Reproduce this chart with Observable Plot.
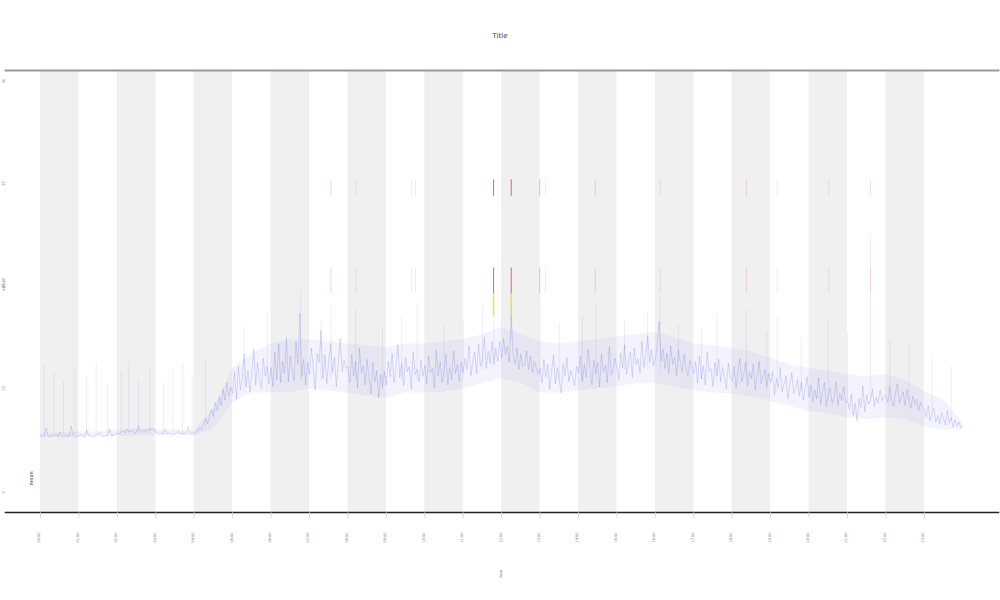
<!DOCTYPE html>
<html>
<head>
<meta charset="utf-8">
<script src="https://cdn.jsdelivr.net/npm/d3@7"></script>
<script src="https://cdn.jsdelivr.net/npm/@observablehq/plot@0.6"></script>
<style>
  html, body { margin: 0; padding: 0; background: #fff; }
  #title { height: 60px; width: 1000px; display: flex; align-items: flex-end; justify-content: center; font: 7px "DejaVu Sans", sans-serif; color: #444; }
  #title span { margin-bottom: 20px; }
</style>
</head>
<body>
<div id="title"><span>Title</span></div>
<div id="chart"></div>
<script>
// ---- data ----
const xTicks = [0,1,2,3,4,5,6,7,8,9,10,11,12,13,14,15,16,17,18,19,20,21,22,23];
const xTickLabels = xTicks.map(h => String(h).padStart(2, "0") + ":00");
const bandStarts = [0,2,4,6,8,10,12,14,16,18,20,22];
const yTicks = [0, 10, 20, 30, 40];
const yTitle = "value";
const xTitle = "hour";
const legendLabel = "mean";
const sampleStep = 0.05;

const values = [
  5.7,5.5,5.6,6.4,5.6,5.5,5.7,5.6,5.8,5.5,6.0,5.6,5.5,5.7,5.6,5.6,6.6,5.7,5.5,5.6,
  5.6,5.8,5.6,5.5,6.2,5.7,5.6,5.6,5.5,5.7,5.8,5.9,5.6,5.5,5.7,5.6,6.3,5.6,5.7,5.8,
  5.9,5.8,6.0,6.1,5.9,6.3,6.0,6.1,6.2,5.9,6.0,6.6,6.1,6.2,6.0,6.3,6.1,6.4,6.2,6.4,
  6.0,5.9,5.8,5.9,5.8,6.3,5.8,5.9,5.8,5.7,5.8,5.9,6.1,5.8,5.9,5.8,5.9,6.5,5.9,5.8,
  5.9,6.0,6.1,6.4,6.2,6.9,7.3,6.8,7.6,8.2,7.5,8.9,8.1,9.4,8.6,10.2,9.1,10.8,9.5,10.4,
  9.8,11.9,9.2,12.4,10.1,11.3,13.6,10.4,12.0,9.9,11.7,14.1,10.6,12.8,11.1,10.2,13.2,11.5,12.4,10.7,
  12.3,10.4,13.8,11.1,14.6,10.8,12.9,11.7,15.2,10.9,13.4,12.1,11.0,14.8,12.6,17.6,11.4,13.1,10.6,12.8,
  11.6,14.2,12.3,10.1,13.7,12.8,15.9,11.2,13.5,10.7,12.9,14.6,11.8,13.3,10.4,12.7,15.1,11.9,13.0,12.2,
  12.4,10.8,13.6,11.5,12.9,10.3,14.2,11.8,12.5,10.6,13.1,11.2,9.7,12.8,10.9,12.0,9.3,11.6,10.4,11.9,
  10.6,12.9,11.4,13.7,10.8,12.2,14.5,11.3,12.7,10.5,13.3,11.9,12.4,10.2,13.8,11.6,12.1,10.9,13.0,11.4,
  12.5,10.7,13.4,11.8,12.2,10.3,14.0,11.5,12.9,10.8,11.9,13.6,10.6,12.3,11.1,13.9,11.7,12.6,10.9,12.8,
  11.8,13.2,12.1,14.4,11.5,12.9,13.8,11.7,14.6,12.4,13.1,15.3,12.2,13.9,12.7,14.8,12.6,14.2,12.9,14.8,
  13.2,15.1,13.6,14.4,12.8,17.4,13.5,12.6,14.2,12.1,13.6,12.4,12.5,13.9,12.1,13.4,11.8,12.9,12.3,11.6,
  12.2,10.8,13.1,11.4,12.6,10.2,11.9,13.5,10.7,12.3,11.1,9.8,12.7,11.5,13.3,10.9,12.0,11.3,10.5,12.4,
  11.8,13.4,10.9,12.6,11.3,14.1,12.2,10.6,13.0,11.7,12.8,10.4,13.6,11.9,12.5,10.8,14.3,11.6,12.1,13.2,
  12.4,11.1,13.7,12.2,14.5,11.6,12.9,13.8,11.3,14.2,12.6,13.1,11.8,14.9,12.3,13.5,15.4,12.8,14.0,12.5,
  13.1,14.6,16.8,12.9,14.1,12.2,13.7,11.8,14.4,12.6,13.3,11.5,14.0,12.8,11.9,13.6,12.2,11.4,13.0,12.4,
  11.7,12.9,10.8,13.4,11.2,12.5,10.6,13.8,11.9,12.2,10.4,12.8,11.5,13.1,10.9,12.3,11.4,10.2,12.7,11.3,
  11.0,12.4,10.3,11.8,13.2,10.9,11.6,12.8,10.5,11.9,11.2,12.6,10.1,11.5,12.9,10.7,11.3,12.1,10.4,11.7,
  10.8,11.9,9.6,11.2,10.4,12.3,9.9,10.7,11.5,9.2,10.6,11.8,9.8,10.3,11.1,9.5,10.9,9.1,10.2,11.4,
  9.4,10.6,8.9,10.1,9.2,11.3,8.7,9.9,10.8,8.5,9.6,10.3,8.8,9.3,10.9,8.6,9.8,9.1,10.4,8.9,
  9.0,8.2,9.7,7.6,8.8,7.1,9.3,8.4,10.5,8.0,9.6,8.7,9.1,10.2,8.5,9.4,8.8,10.1,9.0,9.5,
  9.6,8.9,10.4,9.1,8.5,9.8,10.7,8.8,9.4,9.9,8.6,10.2,9.0,8.3,9.5,8.7,9.2,8.1,8.9,8.4,
  8.2,7.5,8.6,7.1,7.9,8.3,7.0,7.6,6.8,7.9,7.3,6.7,8.1,6.9,7.4,6.5,7.2,6.6,7.0,6.4,
  6.5
];

// envelope of the dense band, every 0.5 h
const envStep = 0.5;
const bandLow  = [5.5,5.5,5.5,5.5,5.6,5.6,5.7,5.7,5.6, 6.3,8.8,9.8,9.8,9.8,10.2,10.0,9.8,9.5,9.3,9.8,9.8,9.9,10.2,10.7,11.2,10.8,9.8,9.8,10.0,10.2,10.4,10.7,10.7,10.4,10.0,9.8,9.7,9.4,9.0,8.5,8.0,7.8,7.4,7.2,7.4,7.2,6.5,6.2,6.2];
const bandHigh = [5.9,5.9,6.0,6.0,6.2,6.3,6.2,6.2,6.1, 8.2,12.2,13.6,14.6,15.0,15.0,14.8,14.6,14.4,14.2,14.6,14.6,14.8,15.0,15.5,16.2,15.5,14.8,14.6,14.8,15.0,15.3,15.5,15.7,15.2,14.6,14.4,14.2,13.8,13.2,12.6,12.2,11.9,11.6,11.4,11.6,11.1,9.9,9.2,6.9];
const envelope = bandLow.map((lo, i) => ({x: i * envStep, lo, hi: bandHigh[i]}));

// faint upper spikes: [x, low, high]
const spikes = [
  [0.1,5.7,12.5],[0.35,5.7,11.8],[0.6,5.7,10.9],[0.9,5.7,12.2],[1.2,5.7,11.4],[1.45,5.7,12.7],
  [1.75,5.7,10.6],[2.1,5.9,11.9],[2.3,5.9,12.8],[2.55,5.9,11.1],[2.85,5.9,12.3],[3.2,5.8,10.8],
  [3.45,5.8,12.0],[3.7,5.8,12.6],[3.95,5.8,11.5],[4.3,6.2,13.0],
  [5.3,10,16.2],[5.9,10,17.5],[6.77,11,19.8],[7.3,11,16.8],[7.56,11,18.5],[8.2,11,17.9],
  [8.9,10,16.1],[9.4,11,17.2],[9.8,11,18.6],[10.5,11,16.4],[11.0,11,17.0],[11.5,12,18.2],
  [11.8,13,19.0],[12.25,15,18.5],[13.0,11,19.5],[13.5,11,16.6],[14.1,11,17.3],[14.45,11,18.4],
  [15.2,12,16.9],[15.8,12,17.6],[16.13,12,19.2],[16.6,12,16.5],[17.2,11,16.1],[17.6,11,17.4],
  [18.37,11,18.0],[18.9,10,15.8],[19.17,10,17.2],[19.8,10,15.2],[20.5,9,16.8],[21.0,9,15.5],
  [21.6,9,25.2],[22.1,9,15.0],[22.6,9,14.6],[23.2,8,13.2],[23.7,7,12.4]
];

// high-value events (red/yellow)
const eventX =        [7.56, 8.21, 9.66, 9.76, 11.79, 12.25, 12.99, 13.14, 14.44, 16.13, 18.37, 19.17, 20.51, 21.60];
const eventStrength = [0.2,  0.12, 0.12, 0.12, 0.8,   0.8,   0.35,  0.12,  0.18,  0.12,  0.2,   0.12,  0.12,  0.18];
const events = eventX.map((x, i) => ({x, s: eventStrength[i]}));

// ---- chart ----
const yMin = -1.85, yMax = 41.27;
const chart = Plot.plot({
  width: 1000,
  height: 540,
  marginTop: 10,
  marginBottom: 88,
  marginLeft: 5,
  marginRight: 2,
  x: {domain: [-0.91, 24.93], axis: null},
  y: {domain: [yMin, yMax], axis: null},
  style: {fontFamily: "DejaVu Sans, sans-serif", background: "white"},
  marks: [
    Plot.rect(bandStarts, {x1: d => d, x2: d => d + 1, fill: "#f0f0f0"}),
    Plot.areaY(envelope, {x: "x", y1: "lo", y2: "hi", fill: "#a8a8ee", fillOpacity: 0.14}),
    Plot.ruleX(spikes, {x: d => d[0], y1: d => d[1], y2: d => d[2], stroke: "#9090e0", strokeOpacity: 0.25, strokeWidth: 0.6}),
    Plot.lineY(values, {x: (d, i) => i * sampleStep, y: d => d, stroke: "#4a4ae0", strokeWidth: 0.5, strokeOpacity: 0.38}),
    Plot.ruleX(events, {x: "x", y1: 29.0, y2: 30.6, stroke: "#e05050", strokeOpacity: d => d.s, strokeWidth: 1.1}),
    Plot.ruleX(events, {x: "x", y1: 19.5, y2: 22.0, stroke: "#e05050", strokeOpacity: d => d.s, strokeWidth: 1.1}),
    Plot.ruleX(events.filter(d => d.s > 0.5), {x: "x", y1: 17.3, y2: 19.5, stroke: "#e8e020", strokeOpacity: d => d.s, strokeWidth: 1.5}),
    Plot.frame({anchor: "top", stroke: "#999", strokeWidth: 2}),
    Plot.frame({anchor: "bottom", stroke: "#222", strokeWidth: 1.5}),
    Plot.ruleX(xTicks, {x: d => d, y1: yMin, y2: yMin - 0.6, stroke: "#ccc", strokeWidth: 0.7}),
    Plot.text(xTicks, {x: d => d, text: (d, i) => xTickLabels[i], frameAnchor: "bottom", dy: 25, rotate: -90, fontSize: 3.5, fill: "#777"}),
    Plot.text(yTicks, {y: d => d, text: d => String(d), frameAnchor: "left", dx: -2, rotate: -90, fontSize: 4, fill: "#999"}),
    Plot.text([yTitle], {frameAnchor: "left", dx: -2, rotate: -90, fontSize: 5, fill: "#888"}),
    Plot.text([xTitle], {frameAnchor: "bottom", dy: 61, rotate: -90, fontSize: 3.5, fill: "#777"}),
    Plot.text([legendLabel], {frameAnchor: "bottom-left", dx: 27, dy: -27, rotate: -90, fontSize: 5, fill: "#333"})
  ]
});
document.getElementById("chart").appendChild(chart);
</script>
</body>
</html>
